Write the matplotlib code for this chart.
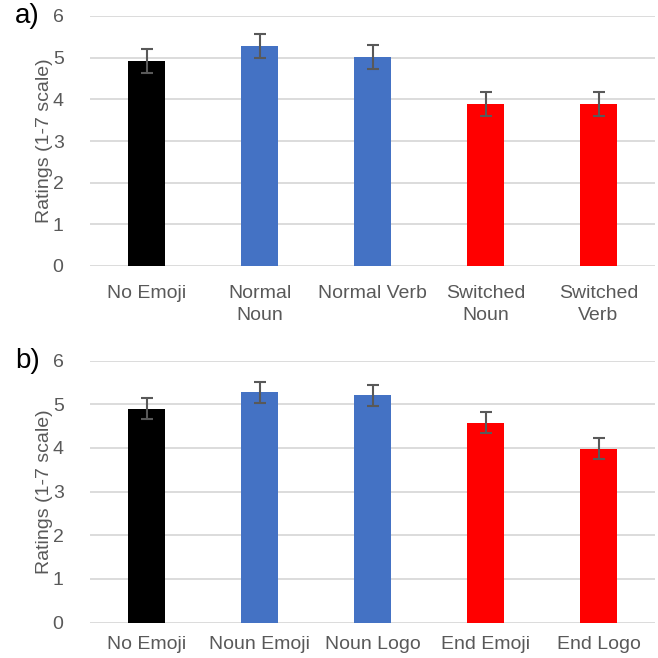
import matplotlib
matplotlib.use("Agg")
import matplotlib.pyplot as plt
import numpy as np

plt.rcParams['font.family'] = ['Liberation Sans', 'DejaVu Sans']

cats_a = ["No Emoji", "Normal\nNoun", "Normal Verb", "Switched\nNoun", "Switched\nVerb"]
vals_a = [4.92, 5.29, 5.02, 3.88, 3.88]
err_a = [0.28, 0.29, 0.29, 0.29, 0.29]

cats_b = ["No Emoji", "Noun Emoji", "Noun Logo", "End Emoji", "End Logo"]
vals_b = [4.90, 5.27, 5.20, 4.58, 3.98]
err_b = [0.23, 0.24, 0.245, 0.23, 0.245]

colors = ["#000000", "#4472C4", "#4472C4", "#FF0000", "#FF0000"]
yticks = [0, 1, 2, 3, 4, 5, 6]

W = H = 658
fig = plt.figure(figsize=(6.58, 6.58), dpi=100)

def px_axes(x0, x1, ytop, ybot):
    return fig.add_axes([x0 / W, 1 - ybot / H, (x1 - x0) / W, (ybot - ytop) / H])

ax_a = px_axes(90, 655, 16, 266)
ax_b = px_axes(90, 655, 360.5, 622.5)

gray = "#595959"
for ax, cats, vals, errs, lab, xpad in [(ax_a, cats_a, vals_a, err_a, "a)", 14),
                                         (ax_b, cats_b, vals_b, err_b, "b)", 10)]:
    x = np.arange(len(cats))
    ax.set_axisbelow(True)
    ax.yaxis.grid(True, color="#d9d9d9", linewidth=1.3)
    ax.bar(x, vals, width=0.32, color=colors, zorder=2)
    ax.errorbar(x, vals, yerr=errs, fmt='none', ecolor=gray, elinewidth=1.5,
                capsize=4, capthick=1.5, zorder=3)
    ax.set_ylim(0, 6)
    ax.set_xlim(-0.5, len(cats) - 0.5)
    ax.set_yticks(yticks)
    ax.set_xticks(x)
    ax.set_xticklabels(cats, fontsize=14, color=gray, linespacing=1.35)
    ax.tick_params(axis='y', length=0, pad=19, labelsize=14, labelcolor=gray)
    ax.tick_params(axis='x', length=0, pad=xpad)
    for s in ['top', 'right', 'left', 'bottom']:
        ax.spines[s].set_visible(False)
    ax.set_ylabel("Ratings (1-7 scale)", fontsize=14, color=gray, labelpad=0)
    ax.text(-75 / 565, 1.0, lab, transform=ax.transAxes, fontsize=20,
            color="black", va='center', ha='left')

fig.savefig("out.png", dpi=100)
